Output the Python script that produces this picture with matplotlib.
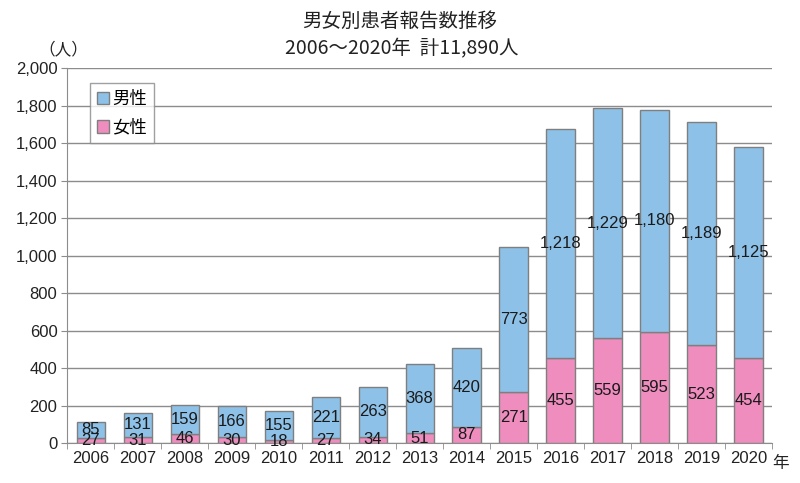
import matplotlib
matplotlib.use("Agg")
import matplotlib.pyplot as plt
from matplotlib.patches import Patch
import numpy as np

plt.rcParams['font.family'] = ['Liberation Sans', 'Noto Sans CJK JP', 'DejaVu Sans']

years = ['2006', '2007', '2008', '2009', '2010', '2011', '2012', '2013', '2014',
         '2015', '2016', '2017', '2018', '2019', '2020']
female = [27, 31, 46, 30, 18, 27, 34, 51, 87, 271, 455, 559, 595, 523, 454]
male = [85, 131, 159, 166, 155, 221, 263, 368, 420, 773, 1218, 1229, 1180, 1189, 1125]
yticks = [0, 200, 400, 600, 800, 1000, 1200, 1400, 1600, 1800, 2000]

c_male = '#8EC1E8'
c_female = '#EE8DBE'
edge = '#7F7F7F'
grid = '#8C8C8C'
tc = '#222222'
cjk = ['Noto Sans CJK JP', 'DejaVu Sans']

fig = plt.figure(figsize=(8, 4.83), dpi=100)
ax = fig.add_axes([0.084, 0.0828, 0.881, 0.776])

x = np.arange(len(years))
w = 0.6
ax.bar(x, female, w, color=c_female, edgecolor=edge, linewidth=1.0, zorder=3)
ax.bar(x, male, w, bottom=female, color=c_male, edgecolor=edge, linewidth=1.0, zorder=3)

for i in range(len(years)):
    ax.text(x[i], female[i] / 2, f"{female[i]:,}", ha='center', va='center',
            fontsize=12, color='#1a1a1a', zorder=5)
    ax.text(x[i], female[i] + male[i] / 2, f"{male[i]:,}", ha='center', va='center',
            fontsize=12, color='#1a1a1a', zorder=5)

ax.set_xlim(-0.5, len(years) - 0.5)
ax.set_ylim(0, 2000)
ax.set_yticks(yticks)
ax.set_yticklabels([f"{v:,}" for v in yticks], fontsize=12, color=tc)
ax.yaxis.grid(True, color=grid, linewidth=1.0, zorder=0)
ax.set_axisbelow(True)

ax.set_xticks(x)
ax.set_xticklabels(years, fontsize=12, color=tc)
ax.tick_params(axis='x', length=0, pad=6)
ax.set_xticks(np.arange(-0.5, len(years) + 0.5, 1), minor=True)
ax.tick_params(axis='x', which='minor', length=4, color=grid, direction='out')
ax.tick_params(axis='y', length=4, color=grid, direction='out', pad=3)

for s in ['top', 'right']:
    ax.spines[s].set_visible(False)
ax.spines['left'].set_color(grid)
ax.spines['bottom'].set_color(grid)

fig.text(0.5, 0.955, '男女別患者報告数推移', ha='center', va='center', fontsize=14,
         family=cjk, color=tc)
fig.text(0.502, 0.9, '2006～2020年  計11,890人', ha='center', va='center', fontsize=14,
         family=cjk, color=tc)
fig.text(0.079, 0.897, '（人）', ha='center', va='center', fontsize=12,
         family=cjk, color=tc)
fig.text(0.976, 0.040, '年', ha='center', va='center', fontsize=12,
         family=cjk, color=tc)

handles = [Patch(facecolor=c_male, edgecolor=edge), Patch(facecolor=c_female, edgecolor=edge)]
leg = ax.legend(handles, ['男性', '女性'], loc='upper left', bbox_to_anchor=(0.032, 0.96),
                frameon=True, fancybox=False, edgecolor='#888888',
                handlelength=0.7, handleheight=0.7, handletextpad=0.2, labelspacing=0.6,
                borderpad=0.4, borderaxespad=0,
                prop={'family': cjk, 'size': 12.5})
leg.get_frame().set_linewidth(1.0)

fig.savefig('out.png', dpi=100)
